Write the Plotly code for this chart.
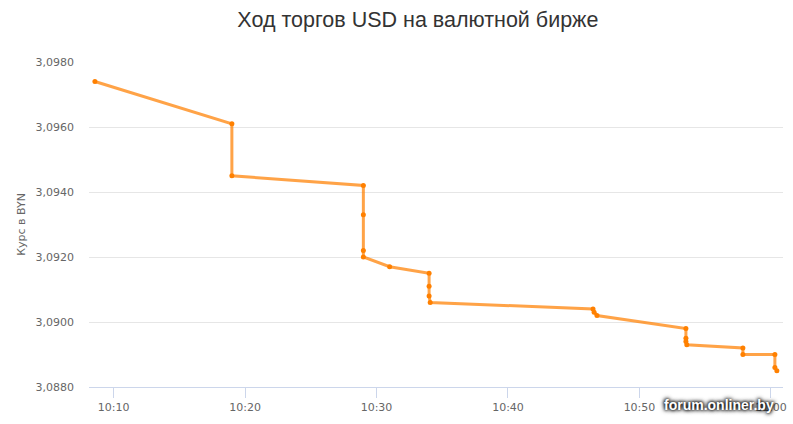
import plotly.graph_objects as go

times = [
    "2017-01-01 10:08:35", "2017-01-01 10:19:00", "2017-01-01 10:19:00",
    "2017-01-01 10:29:00", "2017-01-01 10:29:00", "2017-01-01 10:29:00", "2017-01-01 10:29:00",
    "2017-01-01 10:31:00",
    "2017-01-01 10:34:00", "2017-01-01 10:34:00", "2017-01-01 10:34:00", "2017-01-01 10:34:05",
    "2017-01-01 10:46:28", "2017-01-01 10:46:33", "2017-01-01 10:46:46",
    "2017-01-01 10:53:32", "2017-01-01 10:53:32", "2017-01-01 10:53:32", "2017-01-01 10:53:36",
    "2017-01-01 10:57:52", "2017-01-01 10:57:52",
    "2017-01-01 11:00:18", "2017-01-01 11:00:18", "2017-01-01 11:00:27",
]
rates = [
    3.0974, 3.0961, 3.0945,
    3.0942, 3.0933, 3.0922, 3.0920,
    3.0917,
    3.0915, 3.0911, 3.0908, 3.0906,
    3.0904, 3.0903, 3.0902,
    3.0898, 3.0895, 3.0894, 3.0893,
    3.0892, 3.0890,
    3.0890, 3.0886, 3.0885,
]
y_ticks = [3.088, 3.090, 3.092, 3.094, 3.096, 3.098]
y_tick_labels = ["3,0880", "3,0900", "3,0920", "3,0940", "3,0960", "3,0980"]

fig = go.Figure()
fig.add_trace(go.Scatter(
    x=times, y=rates, mode="lines+markers",
    line=dict(color="rgba(255,128,0,0.72)", width=3),
    marker=dict(color="#ff8000", size=5),
    showlegend=False,
))

fig.update_layout(
    width=793, height=424,
    paper_bgcolor="white", plot_bgcolor="white",
    margin=dict(l=89, r=10, t=62, b=37, autoexpand=False),
    title=dict(text="Ход торгов USD на валютной бирже", x=0.527, xanchor="center",
               y=0.953, yanchor="middle",
               font=dict(family="Liberation Sans, Arial", size=21.5, color="#333333")),
    font=dict(family="DejaVu Sans, Verdana", size=11, color="#666666"),
    xaxis=dict(
        type="date",
        range=["2017-01-01 10:08:08", "2017-01-01 11:00:55"],
        tickformat="%H:%M", dtick=600000,
        tick0="2017-01-01 10:00:00",
        showgrid=False, showline=True, linecolor="#ccd6eb", linewidth=1,
        ticks="outside", ticklen=10, tickcolor="#ccd6eb",
        tickfont=dict(size=11, color="#666666"),
        zeroline=False, automargin=False,
    ),
    yaxis=dict(
        range=[3.088, 3.098],
        tickvals=y_ticks, ticktext=y_tick_labels,
        showgrid=True, gridcolor="#e6e6e6", gridwidth=1,
        zeroline=False, showline=False, ticks="",
        ticklabelstandoff=14, automargin=False,
        tickfont=dict(size=11, color="#666666"),
        title=dict(text="Курс в BYN", font=dict(size=11, color="#666666"), standoff=7),
    ),
    annotations=[dict(
        text="<b>forum.onliner.by</b>", xref="paper", yref="paper",
        x=0.99, y=-0.055, xanchor="right", yanchor="middle", showarrow=False,
        font=dict(family="Liberation Sans, Arial", size=14, color="white",
                  shadow="0px 0px 3px #000, 0px 0px 4px #000, 0px 0px 5px #333"),
    )],
)

fig.write_html("out.html", config={"displayModeBar": False},
               post_script="document.body.style.margin='0';")
